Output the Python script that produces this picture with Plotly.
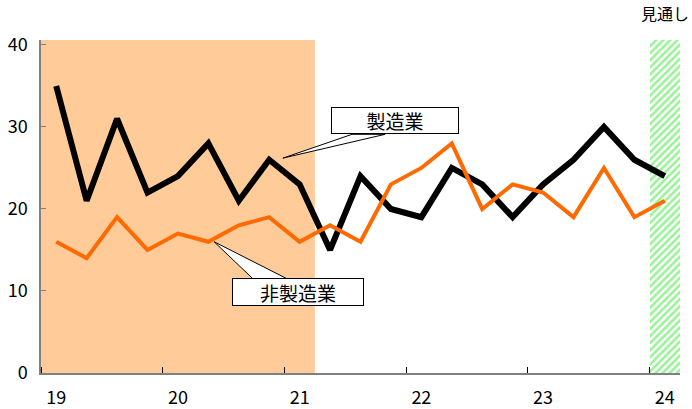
import plotly.graph_objects as go

# ---- data ----
quarter_index = list(range(21))  # 2019Q1 .. 2024Q1
year_labels = ["19", "20", "21", "22", "23", "24"]
year_label_pos = [0, 4, 8, 12, 16, 20]
manufacturing = [35, 21, 31, 22, 24, 28, 21, 26, 23, 15, 24, 20, 19, 25, 23, 19, 23, 26, 30, 26, 24]
non_manufacturing = [16, 14, 19, 15, 17, 16, 18, 19, 16, 18, 16, 23, 25, 28, 20, 23, 22, 19, 25, 19, 21]
actual_period_end = 8      # last quarter of shaded (orange) period
forecast_index = [20]      # 見通し
Y_MAX = 40.6

FONT = "Noto Sans CJK JP, Liberation Sans, sans-serif"
AXIS_COLOR = "#808080"

fig = go.Figure()

# forecast hatched column
fig.add_trace(go.Bar(
    x=forecast_index, y=[Y_MAX], width=1,
    marker=dict(color="white", line=dict(width=0),
                pattern=dict(shape="/", fgcolor="#2ee82e", bgcolor="white", size=5, solidity=0.5)),
    hoverinfo="skip", showlegend=False))

fig.add_trace(go.Scatter(x=quarter_index, y=manufacturing, mode="lines",
                         line=dict(color="black", width=6), showlegend=False))
fig.add_trace(go.Scatter(x=quarter_index, y=non_manufacturing, mode="lines",
                         line=dict(color="#ff6a00", width=4), showlegend=False))

# shaded period
fig.add_shape(type="rect", xref="x", yref="paper", x0=-0.5, x1=actual_period_end + 0.5,
              y0=0, y1=1, fillcolor="#ffcc99", line=dict(width=0), layer="below")

# callout wedges
def wedge(bx0, bx1, by, tx, ty):
    fig.add_shape(type="path", xref="x", yref="y",
                  path=f"M {bx0} {by} L {tx} {ty} L {bx1} {by} Z",
                  fillcolor="white", line=dict(color="black", width=1), layer="above")

wedge(9.72, 10.81, 29.1, 7.45, 26.2)
wedge(6.46, 7.58, 11.5, 5.19, 16.0)

fig.add_annotation(x=11.13, y=30.75, xref="x", yref="y", text="製造業", showarrow=False,
                   font=dict(family=FONT, size=19, color="black"),
                   bgcolor="white", bordercolor="black", borderwidth=1,
                   width=124, height=23)
fig.add_annotation(x=7.96, y=9.9, xref="x", yref="y", text="非製造業", showarrow=False,
                   font=dict(family=FONT, size=19, color="black"),
                   bgcolor="white", bordercolor="black", borderwidth=1,
                   width=128, height=24)
fig.add_annotation(x=forecast_index[0], y=1.08, xref="x", yref="paper", text="見通し",
                   showarrow=False, font=dict(family=FONT, size=16, color="black"),
                   yanchor="middle")

fig.update_layout(
    width=692, height=409,
    margin=dict(l=41, r=12, t=40, b=36, autoexpand=False),
    paper_bgcolor="white", plot_bgcolor="white",
    font=dict(family=FONT, size=16, color="black"),
    showlegend=False, bargap=0,
    xaxis=dict(range=[-0.5, 20.5], tickvals=year_label_pos, ticktext=year_labels,
               ticks="", showgrid=False, zeroline=False, showline=True, automargin=False,
               linecolor=AXIS_COLOR, linewidth=1.5, ticklabelstandoff=8,
               tickfont=dict(size=18),
               minor=dict(tick0=-0.5, dtick=4, ticks="inside", ticklen=6,
                          tickcolor="black", tickwidth=1, showgrid=False)),
    yaxis=dict(range=[0, Y_MAX], tickvals=[0, 10, 20, 30, 40], ticks="inside",
               ticklen=5, tickcolor=AXIS_COLOR, showgrid=False, zeroline=False,
               showline=True, linecolor=AXIS_COLOR, linewidth=1.5, automargin=False,
               ticklabelstandoff=8, tickfont=dict(size=18)),
)

fig.write_html("out.html")
